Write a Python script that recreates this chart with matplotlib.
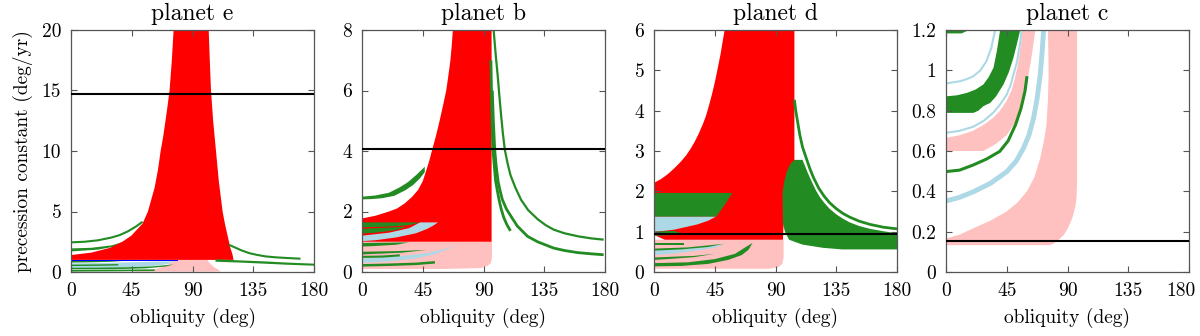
import numpy as np
import matplotlib
matplotlib.use('Agg')
import matplotlib.pyplot as plt
import matplotlib.transforms as mtrans
from matplotlib.ticker import FuncFormatter

# STEP 1: DATA ----------------------------------------------------------------------------------------------------#
panel_names = ['planet e', 'planet b', 'planet d', 'planet c']
y_max = [20, 8, 6, 1.2]
y_ticks = [[0, 5, 10, 15, 20], [0, 2, 4, 6, 8], [0, 1, 2, 3, 4, 5, 6], [0, 0.2, 0.4, 0.6, 0.8, 1.0, 1.2]]
x_ticks = [0, 45, 90, 135, 180]
prec_const = [14.75, 4.05, 0.95, 0.153]   # black horizontal line of each planet

# planet e : region outlines (obliquity deg, precession deg/yr)
e_red = [(0, 1.0), (0, 1.4), (15, 1.6), (29, 2.0), (38, 2.5), (44.7, 3.0), (48, 3.4), (53, 4.0), (55, 4.5),
         (57, 5.0), (59.5, 6.0), (62, 7.0), (64.5, 8.5), (66.4, 10), (68.3, 11.2), (70, 12.5), (71.5, 13.7),
         (73, 15), (74.7, 17.5), (76, 20), (102, 20), (102.8, 17.5), (103.7, 15), (105.3, 12.5), (107.4, 10),
         (109.5, 7.5), (112.3, 5), (114, 4), (116, 3), (118, 2), (119.5, 1.5), (120.4, 1.0)]
e_pink = [(45, 0.03), (62, 0.2), (72, 0.6), (76, 1.0), (101, 1.0), (103, 0.7), (106, 0.4), (109, 0.2),
          (111, 0.05), (105, 0.03)]
e_green_band = [(0, 1.7), (0, 1.95), (15, 2.0), (30, 2.2), (41, 2.55), (45, 2.6), (45, 2.4), (35, 2.15),
                (20, 1.85)]
e_green_rband = [(107, 1.05), (125, 0.96), (143, 0.88), (160, 0.78), (180, 0.69), (180, 0.52), (160, 0.6),
                 (143, 0.69), (125, 0.78), (107, 0.85)]
e_lblue = [(0, 0.3), (0, 0.72), (25, 0.75), (50, 0.82), (70, 0.88), (76, 0.86), (72, 0.65), (60, 0.48),
           (40, 0.38), (20, 0.3)]
e_green_l1 = [(0, 0.78), (0, 0.93), (41, 0.93), (30, 0.85), (15, 0.8)]
e_green_l3 = [(0, 0.22), (0, 0.35), (20, 0.36), (40, 0.39), (60, 0.46), (76, 0.62), (70, 0.45), (55, 0.3),
              (30, 0.23)]
e_blue = [(0, 0.93), (0, 1.0), (79.6, 1.0), (79.6, 0.88), (41, 0.88), (41, 0.93)]
e_line_top = [(0, 2.45), (10, 2.5), (20, 2.62), (30, 2.85), (36, 3.05), (42, 3.35), (48, 3.75), (53, 4.15)]
e_line_right = [(117, 2.25), (120, 2.1), (126, 1.8), (132, 1.56), (138, 1.41), (144, 1.29), (152, 1.21),
                (161, 1.15), (170, 1.1)]
e_line_low1 = [(0, 0.55), (20, 0.57), (35, 0.6)]
e_line_low2 = [(0, 0.1), (30, 0.12), (62, 0.15)]

# planet b
b_red = [(0, 1.0), (0, 1.77), (10, 1.86), (19.4, 1.99), (26, 2.1), (31.7, 2.27), (37, 2.48), (41.5, 2.71),
         (45, 3.0), (47.7, 3.37), (50, 3.7), (51.9, 4.03), (54.8, 4.5), (57.5, 5.0), (60, 5.5), (62.4, 6.0),
         (64, 6.5), (65.5, 7.0), (66.5, 7.5), (67.3, 8), (96, 8), (96, 1.0)]
b_pink = [(0, 0.1), (0, 1.0), (96.3, 1.0), (96.3, 0.5), (95.5, 0.3), (93, 0.2), (88, 0.13), (60, 0.1)]
b_green_up = [(0, 2.4), (0, 2.49), (10, 2.53), (20, 2.62), (28, 2.8), (34, 2.97), (40, 3.2), (46.5, 3.48),
              (46.5, 3.3), (43, 3.1), (38, 2.88), (32, 2.7), (24, 2.52), (15, 2.44), (7, 2.41)]
b_lblue_1 = [(0, 1.02), (0, 1.2), (20, 1.3), (35, 1.45), (43, 1.64), (56.3, 1.64), (53, 1.54), (48, 1.42),
             (40, 1.28), (25, 1.14), (10, 1.05)]
b_green_1a = [(0, 1.48), (0, 1.64), (43, 1.64), (35, 1.55), (20, 1.5)]
b_green_1b = [(0, 1.27), (0, 1.43), (20, 1.47), (33, 1.5), (25, 1.38), (10, 1.3)]
b_green_2 = [(0, 0.84), (0, 0.96), (20, 0.97), (35, 0.98), (25, 0.9), (10, 0.86)]
b_lblue_sliver = [(0, 0.3), (0, 0.45), (30, 0.53), (50, 0.64), (62, 0.77), (70, 0.88), (73.5, 0.96),
                  (66, 0.8), (55, 0.6), (40, 0.45), (20, 0.35)]
b_green_3 = [(0, 0.58), (0, 0.67), (25, 0.69), (48, 0.73), (30, 0.64), (10, 0.6)]
b_line_low1 = [(0, 0.5), (15, 0.51), (28, 0.55)]
b_line_low2 = [(0, 0.22), (20, 0.24), (40, 0.27), (54, 0.32)]
b_line_s = [(95.5, 7.0), (95.9, 6.0), (96.3, 5.0), (97, 4.04), (98, 3.5), (99, 3.0), (100.2, 2.7),
            (101.5, 2.39), (103, 2.1), (105, 1.8), (107.5, 1.55), (110, 1.36)]
b_line_l = [(96.5, 6.0), (97.3, 5.0), (98.3, 4.04), (99.4, 3.5), (100.8, 3.0), (102.2, 2.7), (104, 2.39),
            (107, 2.08), (110.4, 1.84), (115, 1.52), (122.6, 1.18), (130, 1.0), (142, 0.79), (150, 0.71),
            (160, 0.64), (170, 0.6), (179, 0.57)]
b_line_u = [(97.5, 8), (99, 7.2), (100.5, 6.5), (101.8, 5.8), (103, 5.2), (104.3, 4.6), (105.8, 4.04),
            (107.8, 3.6), (110, 3.2), (113.5, 2.8), (117.8, 2.39), (123, 2.05), (130, 1.75), (136, 1.55),
            (142, 1.4), (150, 1.28), (160, 1.18), (170, 1.11), (179, 1.07)]

# planet d
d_red = [(8, 0.8), (0, 0.92), (0, 2.21), (5, 2.3), (10, 2.42), (15, 2.57), (20, 2.74), (24, 2.9), (27, 3.05),
         (30, 3.22), (33, 3.42), (36, 3.65), (38.5, 3.87), (40.5, 4.1), (42.5, 4.35), (44.5, 4.62),
         (46.3, 4.9), (47.8, 5.15), (49.3, 5.4), (50.8, 5.7), (52.3, 6), (104, 6), (104, 2.0), (96.4, 1.97),
         (96, 1.2), (95.5, 0.8)]
d_pink = [(0, 0.08), (0, 0.8), (96, 0.8), (96, 0.35), (95, 0.2), (92, 0.12), (85, 0.08)]
d_green_1 = [(0, 1.37), (0, 1.96), (58, 1.96), (54, 1.75), (50, 1.55), (46, 1.37)]
d_lblue_2 = [(0, 1.0), (0, 1.37), (45.8, 1.37), (40, 1.27), (32.2, 1.18), (15, 1.05), (5, 1.01)]
d_green_3 = [(0, 0.9), (0, 1.0), (15, 1.02), (20, 0.96), (10, 0.91)]
d_green_4 = [(0, 0.66), (0, 0.71), (22, 0.71), (22, 0.67)]
d_lblue_5 = [(0, 0.42), (0, 0.55), (30, 0.6), (52, 0.68), (45, 0.6), (25, 0.5), (10, 0.44)]
d_green_6 = [(0, 0.53), (0, 0.58), (25, 0.61), (52, 0.7), (40, 0.62), (20, 0.56)]
d_green_7 = [(0, 0.3), (0, 0.36), (30, 0.4), (45, 0.45), (30, 0.37), (10, 0.32)]
d_green_8 = [(0, 0.14), (20, 0.15), (40, 0.2), (55, 0.3), (65, 0.42), (70, 0.55), (73, 0.72), (68, 0.62),
             (60, 0.45), (45, 0.32), (25, 0.24), (0, 0.22)]
d_green_big = [(95.2, 1.96), (96.5, 2.25), (98.5, 2.5), (101, 2.68), (104, 2.78), (110, 2.78), (112, 2.62),
               (114, 2.45), (117, 2.23), (120, 2.02), (123, 1.85), (126, 1.72), (130, 1.57), (135, 1.43),
               (140, 1.32), (145, 1.23), (152, 1.14), (160, 1.07), (170, 1.01), (180, 0.96), (180, 0.56),
               (139.5, 0.56), (125, 0.6), (110, 0.68), (100, 0.8), (97, 1.0), (95.5, 1.2)]
d_line_out = [(104, 4.27), (105, 4.0), (106, 3.8), (107, 3.6), (108, 3.4), (110, 3.1), (113, 2.8),
              (115.5, 2.56), (118, 2.35), (122, 2.08), (126, 1.88), (130, 1.72), (135, 1.57), (140, 1.45),
              (145, 1.36), (152, 1.26), (160, 1.18), (170, 1.11), (180, 1.07)]

# planet c
c_pink_big = [(0, 0.133), (0, 0.166), (10, 0.185), (20, 0.216), (33, 0.255), (45, 0.3), (53, 0.345),
              (60, 0.4), (65.5, 0.47), (69.8, 0.565), (72.5, 0.65), (74.4, 0.73), (75.5, 0.85), (76, 0.98),
              (75.8, 1.1), (75.5, 1.2), (97.1, 1.2), (97.1, 0.45), (96.8, 0.38), (96, 0.33), (94.5, 0.29),
              (93.4, 0.265), (90.5, 0.22), (87.2, 0.183), (83.5, 0.16), (79.7, 0.141), (77, 0.133)]
c_pink_up = [(0, 0.6), (0, 0.665), (10, 0.678), (20, 0.7), (28, 0.73), (35, 0.765), (40, 0.8), (45, 0.85),
             (48.5, 0.9), (51, 0.96), (53, 1.02), (54.5, 1.08), (55.7, 1.14), (56.5, 1.2), (66.2, 1.2),
             (64.5, 1.12), (63, 1.05), (61.2, 0.98), (59, 0.9), (57, 0.84), (55, 0.797), (51, 0.74),
             (45.1, 0.68), (37, 0.635), (27.7, 0.6)]
c_green_top = [(0, 1.183), (0, 1.2), (17, 1.2), (11.6, 1.183)]
c_green_band = [(0, 0.789), (0, 0.871), (8, 0.876), (15.4, 0.888), (22, 0.905), (27.7, 0.93), (31.5, 0.965),
                (35.2, 1.013), (37.8, 1.1), (40.1, 1.2), (55, 1.2), (52.5, 1.13), (50, 1.063), (46.5, 0.99),
                (42.6, 0.93), (37, 0.87), (32.7, 0.838), (30, 0.83), (27.7, 0.822), (24, 0.8), (20.3, 0.789)]
c_lblue_thin1 = [(0, 0.935), (10.4, 0.946), (16, 0.958), (20.3, 0.971), (25.5, 1.0), (30, 1.046),
                 (33.5, 1.11), (36.4, 1.2)]
c_lblue_thin2 = [(0, 0.69), (10, 0.7), (20, 0.72), (28, 0.75), (35, 0.79), (40, 0.83), (45, 0.88), (48, 0.93),
                 (50, 0.98), (52.5, 1.04), (54, 1.1), (55.2, 1.15), (56, 1.2)]
c_green_line = [(0, 0.498), (10, 0.505), (20.3, 0.531), (30, 0.56), (39.8, 0.598), (46, 0.65), (51.5, 0.73),
                (55.5, 0.81), (58.5, 0.896), (60, 0.971)]
c_lblue_thick = [(0, 0.352), (10, 0.37), (20.3, 0.398), (33, 0.44), (45.1, 0.498), (52, 0.55), (57.4, 0.614),
                 (61.5, 0.68), (64.9, 0.764), (67.5, 0.86), (69.8, 0.979), (71.2, 1.09), (72.3, 1.2)]

RED, PINK, GREEN, LBLUE, BLUE = '#ff0000', '#ffc0c0', '#228b22', '#add8e6', '#0000ff'


def poly(ax, pts, color):
    xs, ys = zip(*pts)
    ax.fill(xs, ys, color=color, lw=0)


def curve(ax, pts, color, lw):
    xs, ys = zip(*pts)
    ax.plot(xs, ys, color=color, lw=lw, solid_capstyle='butt', solid_joinstyle='round')


if __name__ == '__main__':
    plt.rcParams['font.family'] = ['cmr10', 'DejaVu Serif']
    plt.rcParams['axes.unicode_minus'] = False

    fig = plt.figure(figsize=(12, 3.36), dpi=100)
    lefts = [71, 362, 654, 946]
    axes = [fig.add_axes([l / 1200, 64 / 336, 243 / 1200, 242 / 336]) for l in lefts]

    # STEP 2: DRAW REGIONS -----------------------------------------------------------------------------------------#
    ax = axes[0]
    poly(ax, e_pink, PINK)
    poly(ax, e_green_band, GREEN)
    poly(ax, e_red, RED)
    poly(ax, e_green_rband, GREEN)
    poly(ax, e_lblue, LBLUE)
    poly(ax, e_green_l1, GREEN)
    poly(ax, e_green_l3, GREEN)
    poly(ax, e_blue, BLUE)
    curve(ax, e_line_top, GREEN, 1.5)
    curve(ax, e_line_right, GREEN, 1.5)
    curve(ax, e_line_low1, GREEN, 1.0)
    curve(ax, e_line_low2, GREEN, 1.2)

    ax = axes[1]
    poly(ax, b_pink, PINK)
    poly(ax, b_red, RED)
    poly(ax, b_green_up, GREEN)
    poly(ax, b_lblue_1, LBLUE)
    poly(ax, b_green_1a, GREEN)
    poly(ax, b_green_1b, GREEN)
    poly(ax, b_green_2, GREEN)
    poly(ax, b_lblue_sliver, LBLUE)
    poly(ax, b_green_3, GREEN)
    curve(ax, b_line_low1, GREEN, 1.5)
    curve(ax, b_line_low2, GREEN, 1.8)
    curve(ax, b_line_s, GREEN, 2.0)
    curve(ax, b_line_l, GREEN, 2.0)
    curve(ax, b_line_u, GREEN, 1.6)

    ax = axes[2]
    poly(ax, d_pink, PINK)
    poly(ax, d_red, RED)
    poly(ax, d_green_1, GREEN)
    poly(ax, d_lblue_2, LBLUE)
    poly(ax, d_green_3, GREEN)
    poly(ax, d_green_4, GREEN)
    poly(ax, d_lblue_5, LBLUE)
    poly(ax, d_green_6, GREEN)
    poly(ax, d_green_7, GREEN)
    poly(ax, d_green_8, GREEN)
    poly(ax, d_green_big, GREEN)
    curve(ax, d_line_out, GREEN, 2.0)

    ax = axes[3]
    poly(ax, c_pink_big, PINK)
    poly(ax, c_pink_up, PINK)
    poly(ax, c_green_top, GREEN)
    poly(ax, c_green_band, GREEN)
    curve(ax, c_lblue_thin1, LBLUE, 1.5)
    curve(ax, c_lblue_thin2, LBLUE, 1.5)
    curve(ax, c_green_line, GREEN, 2.2)
    curve(ax, c_lblue_thick, LBLUE, 3.5)

    # STEP 3: AXES -------------------------------------------------------------------------------------------------#
    for i, ax in enumerate(axes):
        ax.axhline(prec_const[i], color='black', lw=1.5, zorder=5)
        ax.set_xlim(0, 180)
        ax.set_ylim(0, y_max[i])
        ax.set_xticks(x_ticks)
        ax.set_yticks(y_ticks[i])
        ax.yaxis.set_major_formatter(FuncFormatter(lambda v, p: '%g' % v))
        ax.tick_params(direction='in', top=True, right=True, length=4, width=0.8, color='#555555',
                       labelsize=14, pad=7)
        for s in ax.spines.values():
            s.set_color('#555555')
            s.set_linewidth(0.9)
        ax.set_title(panel_names[i], fontsize=17, pad=7)
        ax.set_xlabel('obliquity (deg)', fontsize=14, labelpad=6)
    axes[0].set_ylabel('precession constant (deg/yr)', fontsize=14, labelpad=6)

    # last tick label of the right-most panel sits a bit inside the figure
    last = axes[3].xaxis.get_major_ticks()[-1].label1
    last.set_transform(last.get_transform() + mtrans.ScaledTranslation(-8 / 100, 0, fig.dpi_scale_trans))

    fig.savefig('out.png', dpi=100)
